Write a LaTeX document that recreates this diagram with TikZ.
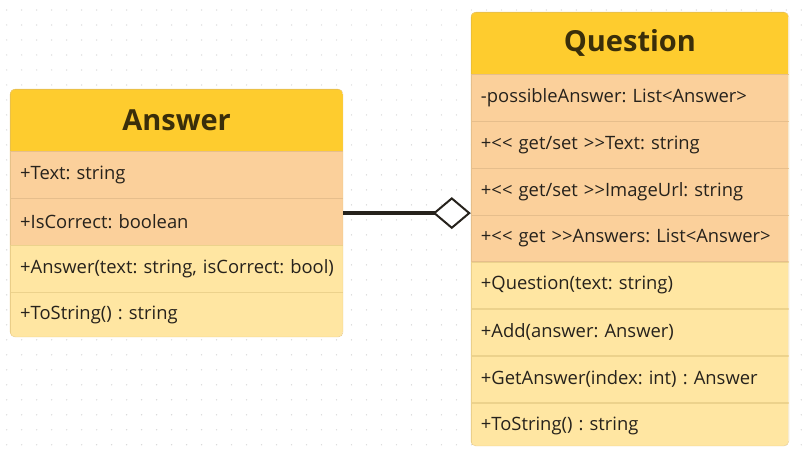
\documentclass[tikz,border=0pt]{standalone}
\usepackage{fontspec}
\setmainfont{Open Sans}
\usetikzlibrary{positioning,arrows.meta}
\definecolor{HeadYellow}{RGB}{254,204,46}
\definecolor{HeadEdge}{RGB}{238,190,40}
\definecolor{HeadText}{RGB}{58,46,10}
\definecolor{AttrOrange}{RGB}{251,208,155}
\definecolor{AttrEdge}{RGB}{230,190,140}
\definecolor{OpYellow}{RGB}{255,230,162}
\definecolor{OpEdge}{RGB}{236,210,140}
\definecolor{BoxEdge}{RGB}{232,200,130}
\definecolor{TextDark}{RGB}{38,34,28}
\definecolor{DotGray}{RGB}{215,215,215}
\frenchspacing

\tikzset{
  classhead/.style={fill=HeadYellow,draw=HeadEdge,minimum height=62pt,inner sep=0pt,
    font=\fontsize{29}{34}\selectfont\bfseries,text=HeadText,anchor=north west},
  attrrow/.style={fill=AttrOrange,draw=AttrEdge,minimum height=46.5pt,inner xsep=10pt,
    inner ysep=0pt,align=left,text=TextDark},
  oprow/.style={attrrow,fill=OpYellow,draw=OpEdge},
  classbox/.style={draw=BoxEdge,rounded corners=5pt,inner sep=0pt,anchor=north west},
}

\begin{document}
\begin{tikzpicture}[x=1pt,y=-1pt,font=\fontsize{18.4}{22}\selectfont]
\fill[white] (0,0) rectangle (802,459);
\foreach \x in {6.7,21.7,...,802} \foreach \y in {10,25,...,459} \fill[DotGray] (\x,\y) circle (0.7);

% Answer
\begin{scope}
\clip[rounded corners=5pt] (10,89) rectangle (343,337);
\node[classhead,minimum width=333pt] (answer) at (10,89) {Answer};
\node[attrrow,text width=313pt,below=0pt of answer] (answer-a1) {+Text: string};
\node[attrrow,text width=313pt,below=0pt of answer-a1] (answer-a2) {+IsCorrect: boolean};
\node[oprow,text width=313pt,below=0pt of answer-a2] (answer-o1) {\mbox{+Answer(text: string, isCorrect: bool)}};
\node[oprow,text width=313pt,below=0pt of answer-o1] (answer-o2) {+ToString() : string};
\end{scope}
\node[classbox,minimum width=333pt,minimum height=248pt] (answerbox) at (10,89) {};

% Question
\begin{scope}
\clip[rounded corners=5pt] (471,12) rectangle (789,446);
\node[classhead,minimum width=318pt] (question) at (471,12) {Question};
\node[attrrow,text width=298pt,below=0pt of question] (question-a1) {-possibleAnswer: List{<}Answer{>}};
\node[attrrow,text width=298pt,below=0pt of question-a1] (question-a2) {+{<}{<} get/set {>}{>}Text: string};
\node[attrrow,text width=298pt,below=0pt of question-a2] (question-a3) {+{<}{<} get/set {>}{>}ImageUrl: string};
\node[attrrow,text width=298pt,below=0pt of question-a3] (question-a4) {\mbox{+{<}{<} get {>}{>}Answers: List{<}Answer{>}}};
\node[oprow,text width=298pt,below=0pt of question-a4] (question-o1) {+Question(text: string)};
\node[oprow,text width=298pt,below=0pt of question-o1] (question-o2) {+Add(answer: Answer)};
\node[oprow,text width=298pt,below=0pt of question-o2] (question-o3) {+GetAnswer(index: int) : Answer};
\node[oprow,text width=298pt,below=0pt of question-o3] (question-o4) {+ToString() : string};
\end{scope}
\node[classbox,minimum width=318pt,minimum height=434pt] (questionbox) at (471,12) {};

\draw[line width=3.6pt,TextDark,-{Diamond[fill=white,length=38pt,width=32pt,line width=2pt]}]
  (answerbox.east) -- (answerbox.east -| questionbox.west);
\end{tikzpicture}
\end{document}
